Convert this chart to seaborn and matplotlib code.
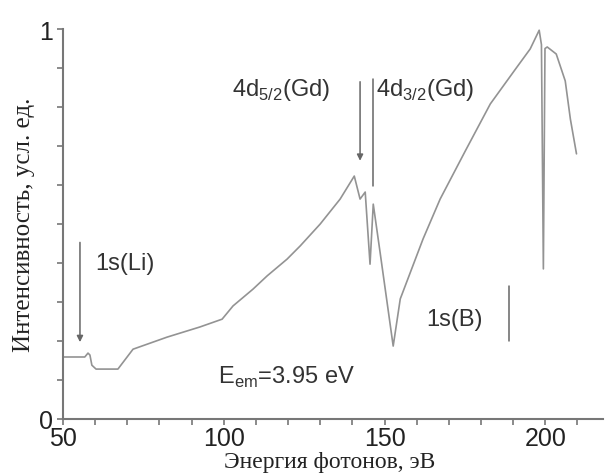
import seaborn as sns
import pandas as pd
import matplotlib.pyplot as plt
from matplotlib.ticker import MultipleLocator, FixedLocator

# photon energy (eV) and intensity (arb. units)
energy = [50.0, 56.8, 57.8, 58.4, 59.0, 60.3, 67.1, 71.8, 82.4, 92.6, 99.5,
          102.9, 109.1, 113.5, 119.7, 123.8, 130.0, 136.2, 140.6, 142.4,
          144.0, 145.5, 146.5, 148.7, 152.7, 154.9, 162.0, 167.3, 175.1,
          182.9, 190.7, 195.3, 198.1, 198.8, 199.4, 199.9, 200.6, 203.4,
          206.2, 207.8, 209.7]
intensity = [0.159, 0.159, 0.169, 0.164, 0.138, 0.128, 0.128, 0.179, 0.210,
             0.236, 0.256, 0.290, 0.333, 0.367, 0.410, 0.444, 0.500, 0.564,
             0.623, 0.564, 0.582, 0.397, 0.551, 0.423, 0.187, 0.308, 0.462,
             0.564, 0.687, 0.808, 0.897, 0.949, 0.997, 0.960, 0.385, 0.950,
             0.954, 0.936, 0.867, 0.769, 0.680]

spec = pd.DataFrame({'E': energy, 'I': intensity})

sns.set_style('white')
plt.rcParams['font.family'] = ['Liberation Sans', 'DejaVu Sans']

fig = plt.figure(figsize=(6.05, 4.77), dpi=100)
ax = fig.add_axes([0.104, 0.1195, 0.893, 0.8175])

sns.lineplot(x='E', y='I', data=spec, ax=ax, color='#939393', lw=1.2)

ax.set_xlim(50, 218)
ax.set_ylim(0, 1)
ax.xaxis.set_major_locator(FixedLocator([50, 100, 150, 200]))
ax.xaxis.set_minor_locator(MultipleLocator(10))
ax.yaxis.set_major_locator(FixedLocator([0, 1]))
ax.yaxis.set_minor_locator(MultipleLocator(0.1))
ax.tick_params(which='both', direction='out', length=4, width=1.2,
               color='#777777', labelsize=18, bottom=True, left=True,
               labelcolor='#222222')
ax.tick_params(axis='x', pad=1)
sns.despine(ax=ax)
for s in ['left', 'bottom']:
    ax.spines[s].set_color('#777777')
    ax.spines[s].set_linewidth(1.5)

ax.set_xlabel('Энергия фотонов, эВ', family='Liberation Serif', fontsize=17, color='#222222')
ax.set_ylabel('Интенсивность, усл. ед.', family='Liberation Serif', fontsize=18, color='#222222')
ax.xaxis.set_label_coords(0.494, -0.082)
ax.yaxis.set_label_coords(-0.052, 0.5)

# markers of absorption edges
arr = dict(arrowstyle='-|>', color='#666666', lw=1.1, mutation_scale=9)
ax.annotate('', xy=(55.3, 0.19), xytext=(55.3, 0.46), arrowprops=arr)
ax.annotate('', xy=(142.4, 0.655), xytext=(142.4, 0.872), arrowprops=arr)
ax.plot([146.5, 146.5], [0.872, 0.597], color='#666666', lw=1.1)
ax.plot([188.8, 188.8], [0.34, 0.2], color='#666666', lw=1.1)

txt = dict(fontsize=17, color='#333333', va='center')
ax.text(60.0, 0.40, '1s(Li)', **txt)
ax.text(102.6, 0.846, r'4d$_{\mathregular{5/2}}$(Gd)', **txt)
ax.text(147.4, 0.846, r'4d$_{\mathregular{3/2}}$(Gd)', **txt)
ax.text(163.0, 0.256, '1s(B)', **txt)
ax.text(98.2, 0.108, r'E$_{\mathregular{em}}$=3.95 eV', **txt)

fig.savefig('out.png', dpi=100)
